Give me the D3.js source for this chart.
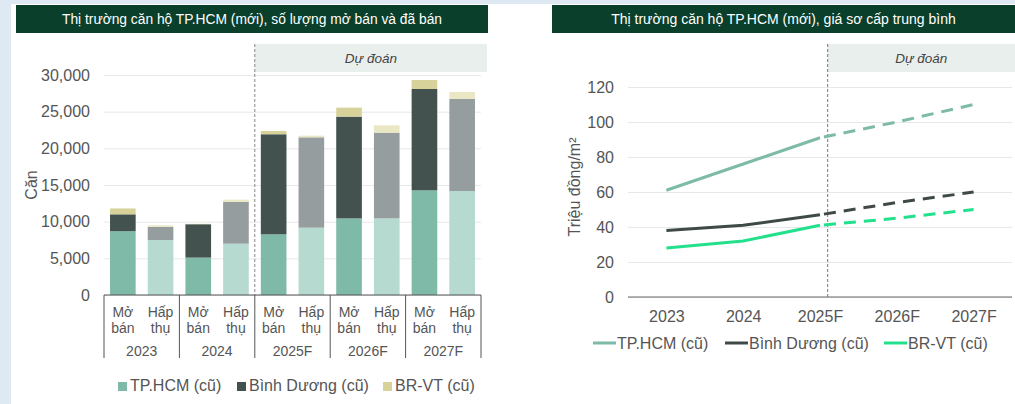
<!DOCTYPE html>
<html>
<head>
<meta charset="utf-8">
<script src="https://cdn.jsdelivr.net/npm/d3@7"></script>
<style>
body { margin: 0; background: #dfe9f4; }
svg { display: block; font-family: "Liberation Sans", Arial, sans-serif; }
</style>
</head>
<body>
<div class="interactive-wrapper"></div>
<script>

// left chart: units launched (Mở bán) and absorbed (Hấp thụ)
const years = ['2023', '2024', '2025F', '2026F', '2027F']
const kinds = ['Mở bán', 'Hấp thụ']
const regions = ['TP.HCM (cũ)', 'Bình Dương (cũ)', 'BR-VT (cũ)']

const hcmUnits = [8700, 7500, 5100, 7000, 8270, 9180, 10450, 10450, 14270, 14180]
const bdUnits  = [2300, 1800, 4550, 5700, 13650, 12320, 13870, 11690, 13820, 12550]
const brvtUnits = [800, 200, 50, 300, 450, 230, 1230, 1000, 1230, 950]

const unitTicks = [0, 5000, 10000, 15000, 20000, 25000, 30000]

// right chart: average primary price
const priceYears = ['2023', '2024', '2025F', '2026F', '2027F']
const hcmPrice = [61, 76, 91, 100, 110]
const bdPrice = [38, 41, 47, 54, 60]
const brvtPrice = [28, 32, 41, 45, 50]
const priceTicks = [0, 20, 40, 60, 80, 100, 120]

const W = 1015, H = 404

const svg = d3.select('.interactive-wrapper')
.append('svg')
.attr('width', W)
.attr('height', H)

svg.append('rect')
.attr('x', 11).attr('y', 4)
.attr('width', W - 11).attr('height', H - 4)
.attr('fill', '#fff')

const titleBar = (x0, x1, text, size) => {
	svg.append('rect')
	.attr('x', x0).attr('y', 5)
	.attr('width', x1 - x0).attr('height', 28)
	.attr('fill', '#0a3f2b')
	svg.append('text')
	.attr('x', (x0 + x1) / 2).attr('y', 24)
	.attr('text-anchor', 'middle')
	.attr('fill', '#fff')
	.attr('font-size', size)
	.text(text)
}

const forecastBox = (x0, x1) => {
	svg.append('rect')
	.attr('x', x0).attr('y', 44)
	.attr('width', x1 - x0).attr('height', 28)
	.attr('fill', '#e9efed')
	svg.append('text')
	.attr('x', (x0 + x1) / 2).attr('y', 63)
	.attr('text-anchor', 'middle')
	.attr('fill', '#444')
	.attr('font-size', 13.5)
	.attr('font-style', 'italic')
	.text('Dự đoán')
}

/* ---------- left: stacked bars ---------- */

titleBar(16, 488, 'Thị trường căn hộ TP.HCM (mới), số lượng mở bán và đã bán', 13.8)

const L = { left: 104, right: 481, top: 75, bottom: 295 }

const yL = d3.scaleLinear().domain([0, 30000]).range([L.bottom, L.top])

const slots = years.flatMap(y => kinds.map(k => y + '|' + k))
const xL = d3.scaleBand().domain(slots).range([L.left, L.right]).paddingInner(0.32).paddingOuter(0.16)
const xYear = d3.scaleBand().domain(years).range([L.left, L.right])

forecastBox(xYear('2025F'), 487)

const gridL = d3.axisLeft(yL).tickValues(unitTicks).tickSize(-(L.right - L.left)).tickFormat(d3.format(','))
const gyL = svg.append('g').attr('transform', `translate(${L.left},0)`).call(gridL)
gyL.select('.domain').remove()
gyL.selectAll('line').attr('stroke', '#e6e9e8')
gyL.selectAll('text').attr('x', -14).attr('font-size', 16).attr('fill', '#555').attr('font-family', 'Liberation Sans, Arial')

svg.append('text')
.attr('transform', `translate(37,${yL(15000)}) rotate(-90)`)
.attr('text-anchor', 'middle')
.attr('font-size', 16)
.attr('fill', '#555')
.text('Căn')

const rows = slots.map((s, i) => ({ slot: s, kind: s.split('|')[1], hcm: hcmUnits[i], bd: bdUnits[i], brvt: brvtUnits[i] }))
const stack = d3.stack().keys(['hcm', 'bd', 'brvt'])(rows)

const barColors = {
	'Mở bán': { hcm: '#7fbaa9', bd: '#44524f', brvt: '#d6d29a' },
	'Hấp thụ': { hcm: '#b6d9d0', bd: '#969d9e', brvt: '#e9e7c4' }
}

svg.selectAll('g.layer')
.data(stack)
.enter()
.append('g')
.attr('class', 'layer')
.selectAll('rect')
.data(d => d.map(p => Object.assign({ key: d.key }, p)))
.enter()
.append('rect')
.attr('x', d => xL(d.data.slot))
.attr('width', xL.bandwidth())
.attr('y', d => yL(d[1]))
.attr('height', d => yL(d[0]) - yL(d[1]))
.attr('fill', d => barColors[d.data.kind][d.key])

// forecast divider
svg.append('line')
.attr('x1', xYear('2025F')).attr('x2', xYear('2025F'))
.attr('y1', 44).attr('y2', L.bottom)
.attr('stroke', '#888').attr('stroke-dasharray', '3,2')

// baseline + group separators
svg.append('line')
.attr('x1', L.left).attr('x2', L.right)
.attr('y1', L.bottom).attr('y2', L.bottom)
.attr('stroke', '#555')

svg.selectAll('line.sep')
.data(years.map(y => xYear(y)).concat([L.right]))
.enter()
.append('line')
.attr('class', 'sep')
.attr('x1', d => d).attr('x2', d => d)
.attr('y1', L.bottom).attr('y2', 358)
.attr('stroke', '#555')

const kindLabel = svg.selectAll('text.kind')
.data(slots)
.enter()
.append('text')
.attr('class', 'kind')
.attr('text-anchor', 'middle')
.attr('font-size', 14)
.attr('fill', '#555')

kindLabel.append('tspan')
.attr('x', d => xL(d) + xL.bandwidth() / 2)
.attr('y', 317)
.text(d => d.split('|')[1].split(' ')[0])
kindLabel.append('tspan')
.attr('x', d => xL(d) + xL.bandwidth() / 2)
.attr('y', 333)
.text(d => d.split('|')[1].split(' ')[1])

svg.selectAll('text.year')
.data(years)
.enter()
.append('text')
.attr('class', 'year')
.attr('x', d => xYear(d) + xYear.bandwidth() / 2)
.attr('y', 356)
.attr('text-anchor', 'middle')
.attr('font-size', 14)
.attr('fill', '#555')
.text(d => d)

const legL = svg.selectAll('g.legL')
.data(regions)
.enter()
.append('g')
.attr('class', 'legL')
.attr('transform', (d, i) => `translate(${[118, 237, 383][i]},391)`)

legL.append('rect')
.attr('x', 0).attr('y', -9).attr('width', 9).attr('height', 9)
.attr('fill', (d, i) => ['#7fbaa9', '#44524f', '#d6d29a'][i])
legL.append('text')
.attr('x', 12).attr('y', 0)
.attr('font-size', 16)
.attr('fill', '#555')
.text(d => d)

/* ---------- right: price lines ---------- */

titleBar(552, 1015, 'Thị trường căn hộ TP.HCM (mới), giá sơ cấp trung bình', 14)

const R = { left: 628, right: 1012, top: 87, bottom: 297 }

const yR = d3.scaleLinear().domain([0, 120]).range([R.bottom, R.top])
const xR = d3.scalePoint().domain(priceYears).range([R.left, R.right]).padding(0.5)

const splitX = xR('2025F') + xR.step() * 0.1
forecastBox(splitX, 1015)

const gridR = d3.axisLeft(yR).tickValues(priceTicks).tickSize(-(R.right - R.left))
const gyR = svg.append('g').attr('transform', `translate(${R.left},0)`).call(gridR)
gyR.select('.domain').remove()
gyR.selectAll('line').attr('stroke', '#e6e9e8')
gyR.selectAll('text').attr('x', -14).attr('font-size', 16).attr('fill', '#555').attr('font-family', 'Liberation Sans, Arial')

svg.append('line')
.attr('x1', R.left).attr('x2', R.right)
.attr('y1', R.bottom).attr('y2', R.bottom)
.attr('stroke', '#666')

svg.append('line')
.attr('x1', splitX).attr('x2', splitX)
.attr('y1', 44).attr('y2', R.bottom)
.attr('stroke', '#777').attr('stroke-dasharray', '3,2')

svg.append('text')
.attr('transform', `translate(580,187) rotate(-90)`)
.attr('text-anchor', 'middle')
.attr('font-size', 16)
.attr('fill', '#555')
.text('Triệu đồng/m²')

const xAxR = svg.append('g').attr('transform', `translate(0,${R.bottom})`)
.call(d3.axisBottom(xR).tickSize(0).tickPadding(14))
xAxR.select('.domain').remove()
xAxR.selectAll('text').attr('font-size', 16).attr('fill', '#555').attr('font-family', 'Liberation Sans, Arial')

const series = [
	{ name: regions[0], values: hcmPrice, color: '#7dbaa7' },
	{ name: regions[1], values: bdPrice, color: '#3f4a48' },
	{ name: regions[2], values: brvtPrice, color: '#22e08c' }
]

const line = d3.line().x(d => xR(d.year)).y(d => yR(d.v))

series.forEach(s => {
	let pts = priceYears.map((y, i) => ({ year: y, v: s.values[i] }))
	let split = priceYears.indexOf('2025F')
	svg.append('path')
	.attr('d', line(pts.slice(0, split + 1)))
	.attr('fill', 'none')
	.attr('stroke', s.color)
	.attr('stroke-width', 3)
	svg.append('path')
	.attr('d', line(pts.slice(split)))
	.attr('fill', 'none')
	.attr('stroke', s.color)
	.attr('stroke-width', 3)
	.attr('stroke-dasharray', '12,8')
	.attr('stroke-dashoffset', -4)
})

const legR = svg.selectAll('g.legR')
.data(series)
.enter()
.append('g')
.attr('class', 'legR')
.attr('transform', (d, i) => `translate(${[593, 725, 884][i]},343)`)

legR.append('line')
.attr('x1', 0).attr('x2', 23).attr('y1', 0).attr('y2', 0)
.attr('stroke', d => d.color).attr('stroke-width', 3)
legR.append('text')
.attr('x', 24).attr('y', 6)
.attr('font-size', 16)
.attr('fill', '#555')
.text(d => d.name)

</script>
</body>
</html>
